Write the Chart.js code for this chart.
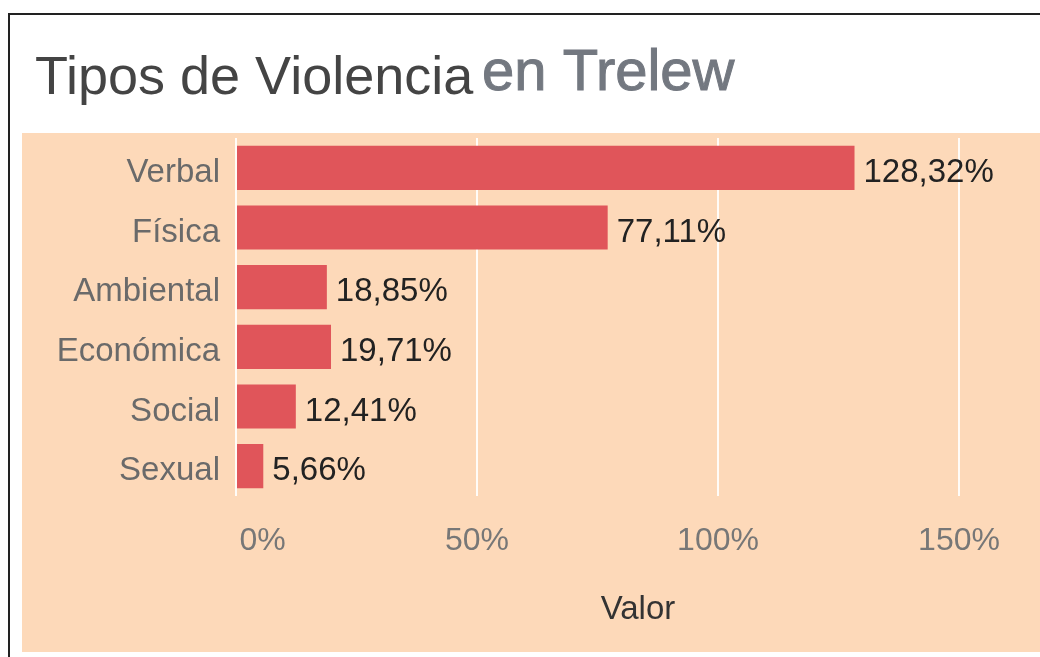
<!DOCTYPE html>
<html>
<head>
<meta charset="utf-8">
<script src="https://cdn.jsdelivr.net/npm/chart.js@4.4.1/dist/chart.umd.min.js"></script>
<style>
  html, body { margin: 0; padding: 0; background: #ffffff; }
  #wrap { width: 1040px; height: 657px; position: relative; }
  canvas { display: block; }
</style>
</head>
<body>
<div id="wrap"><canvas id="c" width="1040" height="657"></canvas></div>
<script>
const categories = ['Verbal', 'Física', 'Ambiental', 'Económica', 'Social', 'Sexual'];
const values = [128.32, 77.11, 18.85, 19.71, 12.41, 5.66];
const tickValues = [0, 50, 100, 150];
const titleMain = 'Tipos de Violencia';
const titleSub = 'en Trelew';
const axisTitle = 'Valor';

const FONT = '"Liberation Sans", Arial, sans-serif';
const PEACH = '#fdd9b9';
const BAR = '#e0555a';

const fmt = v => v.toFixed(2).replace('.', ',') + '%';

const backdrop = {
  id: 'backdrop',
  beforeDraw(chart) {
    const ctx = chart.ctx;
    ctx.save();
    ctx.fillStyle = '#ffffff';
    ctx.fillRect(0, 0, chart.width, chart.height);
    ctx.strokeStyle = '#222222';
    ctx.lineWidth = 2;
    ctx.strokeRect(9, 14, chart.width + 20, chart.height + 20);
    ctx.fillStyle = PEACH;
    ctx.fillRect(22, 133, chart.width - 22, 519);
    // title
    ctx.textBaseline = 'alphabetic';
    ctx.textAlign = 'left';
    ctx.font = '54px ' + FONT;
    ctx.fillStyle = '#444444';
    ctx.fillText(titleMain, 35, 94);
    ctx.font = '58px ' + FONT;
    ctx.fillStyle = '#737880';
    ctx.strokeStyle = '#737880';
    ctx.lineWidth = 1;
    ctx.fillText(titleSub, 482, 90);
    ctx.strokeText(titleSub, 482, 90);
    ctx.restore();
  }
};

const dataLabels = {
  id: 'dataLabels',
  afterDatasetsDraw(chart) {
    const ctx = chart.ctx;
    const meta = chart.getDatasetMeta(0);
    ctx.save();
    ctx.font = '33px ' + FONT;
    ctx.fillStyle = '#222222';
    ctx.textAlign = 'left';
    ctx.textBaseline = 'middle';
    meta.data.forEach((bar, i) => {
      ctx.fillText(fmt(values[i]), bar.x + 9, bar.y + 5);
    });
    ctx.restore();
  }
};

new Chart(document.getElementById('c'), {
  type: 'bar',
  data: {
    labels: categories,
    datasets: [{
      data: values,
      backgroundColor: BAR,
      borderWidth: 0,
      barPercentage: 0.74,
      categoryPercentage: 1.0
    }]
  },
  options: {
    indexAxis: 'y',
    responsive: false,
    animation: false,
    layout: { padding: { top: 138, left: 0, right: 0, bottom: 0 } },
    plugins: { legend: { display: false }, tooltip: { enabled: false }, title: { display: false } },
    scales: {
      x: {
        min: 0,
        max: 166.8,
        afterBuildTicks(scale) { scale.ticks = tickValues.map(v => ({ value: v })); },
        afterFit(scale) { scale.height = 161; },
        grid: { color: 'rgba(255,255,255,0.9)', lineWidth: 2, drawTicks: false },
        border: { display: false },
        ticks: {
          padding: 26,
          color: '#777777',
          font: { family: FONT, size: 32 },
          callback: v => (v === 0 ? '\u2007\u2007\u2007' : '') + v + '%'
        },
        title: {
          display: true,
          text: axisTitle,
          color: '#333333',
          font: { family: FONT, size: 33 },
          padding: { top: 0, bottom: 27 }
        }
      },
      y: {
        afterFit(scale) { scale.width = 236; },
        grid: { display: false, drawTicks: false },
        border: { display: false },
        ticks: {
          padding: 16,
          labelOffset: 5,
          color: '#6a6a6a',
          font: { family: FONT, size: 33 }
        }
      }
    }
  },
  plugins: [backdrop, dataLabels]
});
</script>
</body>
</html>
